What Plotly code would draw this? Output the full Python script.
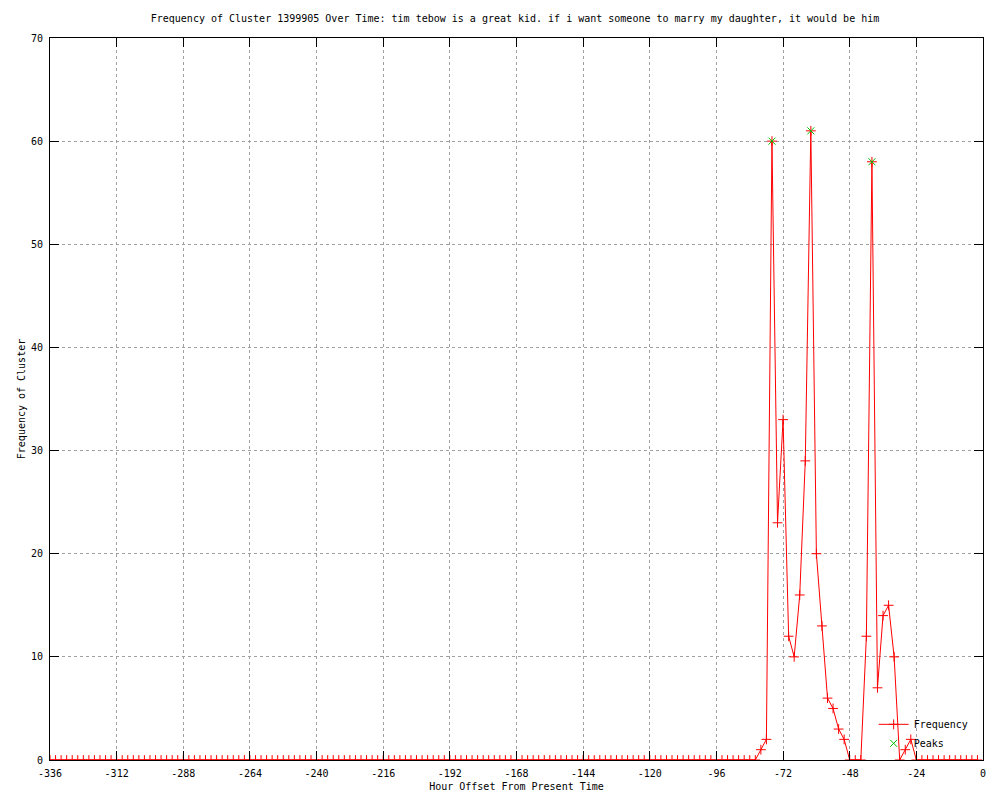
import plotly.graph_objects as go

# Hour offsets (every 2 hours from -336 to 0)
hours = list(range(-336, 1, 2))

# Frequency values (one per hour offset above)
freq = [
    0, 0, 0, 0, 0, 0, 0, 0, 0, 0, 0, 0, 0, 0, 0, 0,   # -336 .. -306
    0, 0, 0, 0, 0, 0, 0, 0, 0, 0, 0, 0, 0, 0, 0, 0,   # -304 .. -274
    0, 0, 0, 0, 0, 0, 0, 0, 0, 0, 0, 0, 0, 0, 0, 0,   # -272 .. -242
    0, 0, 0, 0, 0, 0, 0, 0, 0, 0, 0, 0, 0, 0, 0, 0,   # -240 .. -210
    0, 0, 0, 0, 0, 0, 0, 0, 0, 0, 0, 0, 0, 0, 0, 0,   # -208 .. -178
    0, 0, 0, 0, 0, 0, 0, 0, 0, 0, 0, 0, 0, 0, 0, 0,   # -176 .. -146
    0, 0, 0, 0, 0, 0, 0, 0, 0, 0, 0, 0, 0, 0, 0, 0,   # -144 .. -114
    0, 0, 0, 0, 0, 0, 0, 0, 0, 0, 0, 0, 0, 0, 0, 0,   # -112 .. -82
    1, 2, 60, 23, 33, 12, 10, 16, 29, 61, 20, 13, 6, 5, 3, 2,  # -80 .. -50
    0, 0, 0, 12, 58, 7, 14, 15, 10, 0, 1, 2, 0,       # -48 .. -24
    0, 0, 0, 0, 0, 0, 0, 0, 0, 0, 0,                  # -22 .. 0
]

peak_hours = [-76, -62, -40]
peak_values = [60, 61, 58]

x_ticks = list(range(-336, 1, 24))
y_ticks = list(range(0, 71, 10))

title_text = ("Frequency of Cluster 1399905 Over Time: tim tebow is a great kid. "
              "if i want someone to marry my daughter, it would be him")

FONT = "DejaVu Sans Mono"
FS = 10

fig = go.Figure()
fig.add_trace(go.Scatter(
    x=hours, y=freq, name="Frequency", mode="lines+markers",
    line=dict(color="#ff0000", width=1),
    marker=dict(symbol="cross-thin", size=7, line=dict(color="#ff0000", width=1)),
))
fig.add_trace(go.Scatter(
    x=peak_hours, y=peak_values, name="Peaks", mode="markers",
    marker=dict(symbol="x-thin", size=7, color="#00c000", line=dict(color="#00c000", width=1)),
))

axis_common = dict(
    showline=True, linecolor="black", linewidth=1, mirror="ticks",
    ticks="inside", ticklen=9, tickcolor="black", tickwidth=1,
    showgrid=True, gridcolor="#a0a0a0", griddash="dot", gridwidth=1,
    zeroline=False, automargin=False,
    tickfont=dict(family=FONT, size=FS, color="black"),
)

fig.update_layout(
    width=1000, height=800,
    paper_bgcolor="white", plot_bgcolor="white",
    margin=dict(l=42, r=25, t=30, b=48, autoexpand=False),
    font=dict(family=FONT, size=FS, color="black"),
    title=dict(text=title_text, x=0.507, xanchor="center", y=0.9875, yanchor="middle",
               automargin=False,
               font=dict(family=FONT, size=FS, color="black")),
    xaxis=dict(range=[-336, 0], tickvals=x_ticks, ticktext=[str(v) for v in x_ticks],
               title=dict(text="Hour Offset From Present Time", standoff=4,
                          font=dict(family=FONT, size=FS)),
               ticklabelstandoff=4, **axis_common),
    yaxis=dict(range=[0, 70], tickvals=y_ticks,
               title=dict(text="Frequency of Cluster", standoff=3,
                          font=dict(family=FONT, size=FS)),
               ticklabelstandoff=4, **axis_common),
    legend=dict(x=0.99, xanchor="right", y=0.003, yanchor="bottom",
                bgcolor="rgba(0,0,0,0)", font=dict(family=FONT, size=FS),
                tracegroupgap=0, itemwidth=30),
    showlegend=True,
)

fig.write_html("out.html")
